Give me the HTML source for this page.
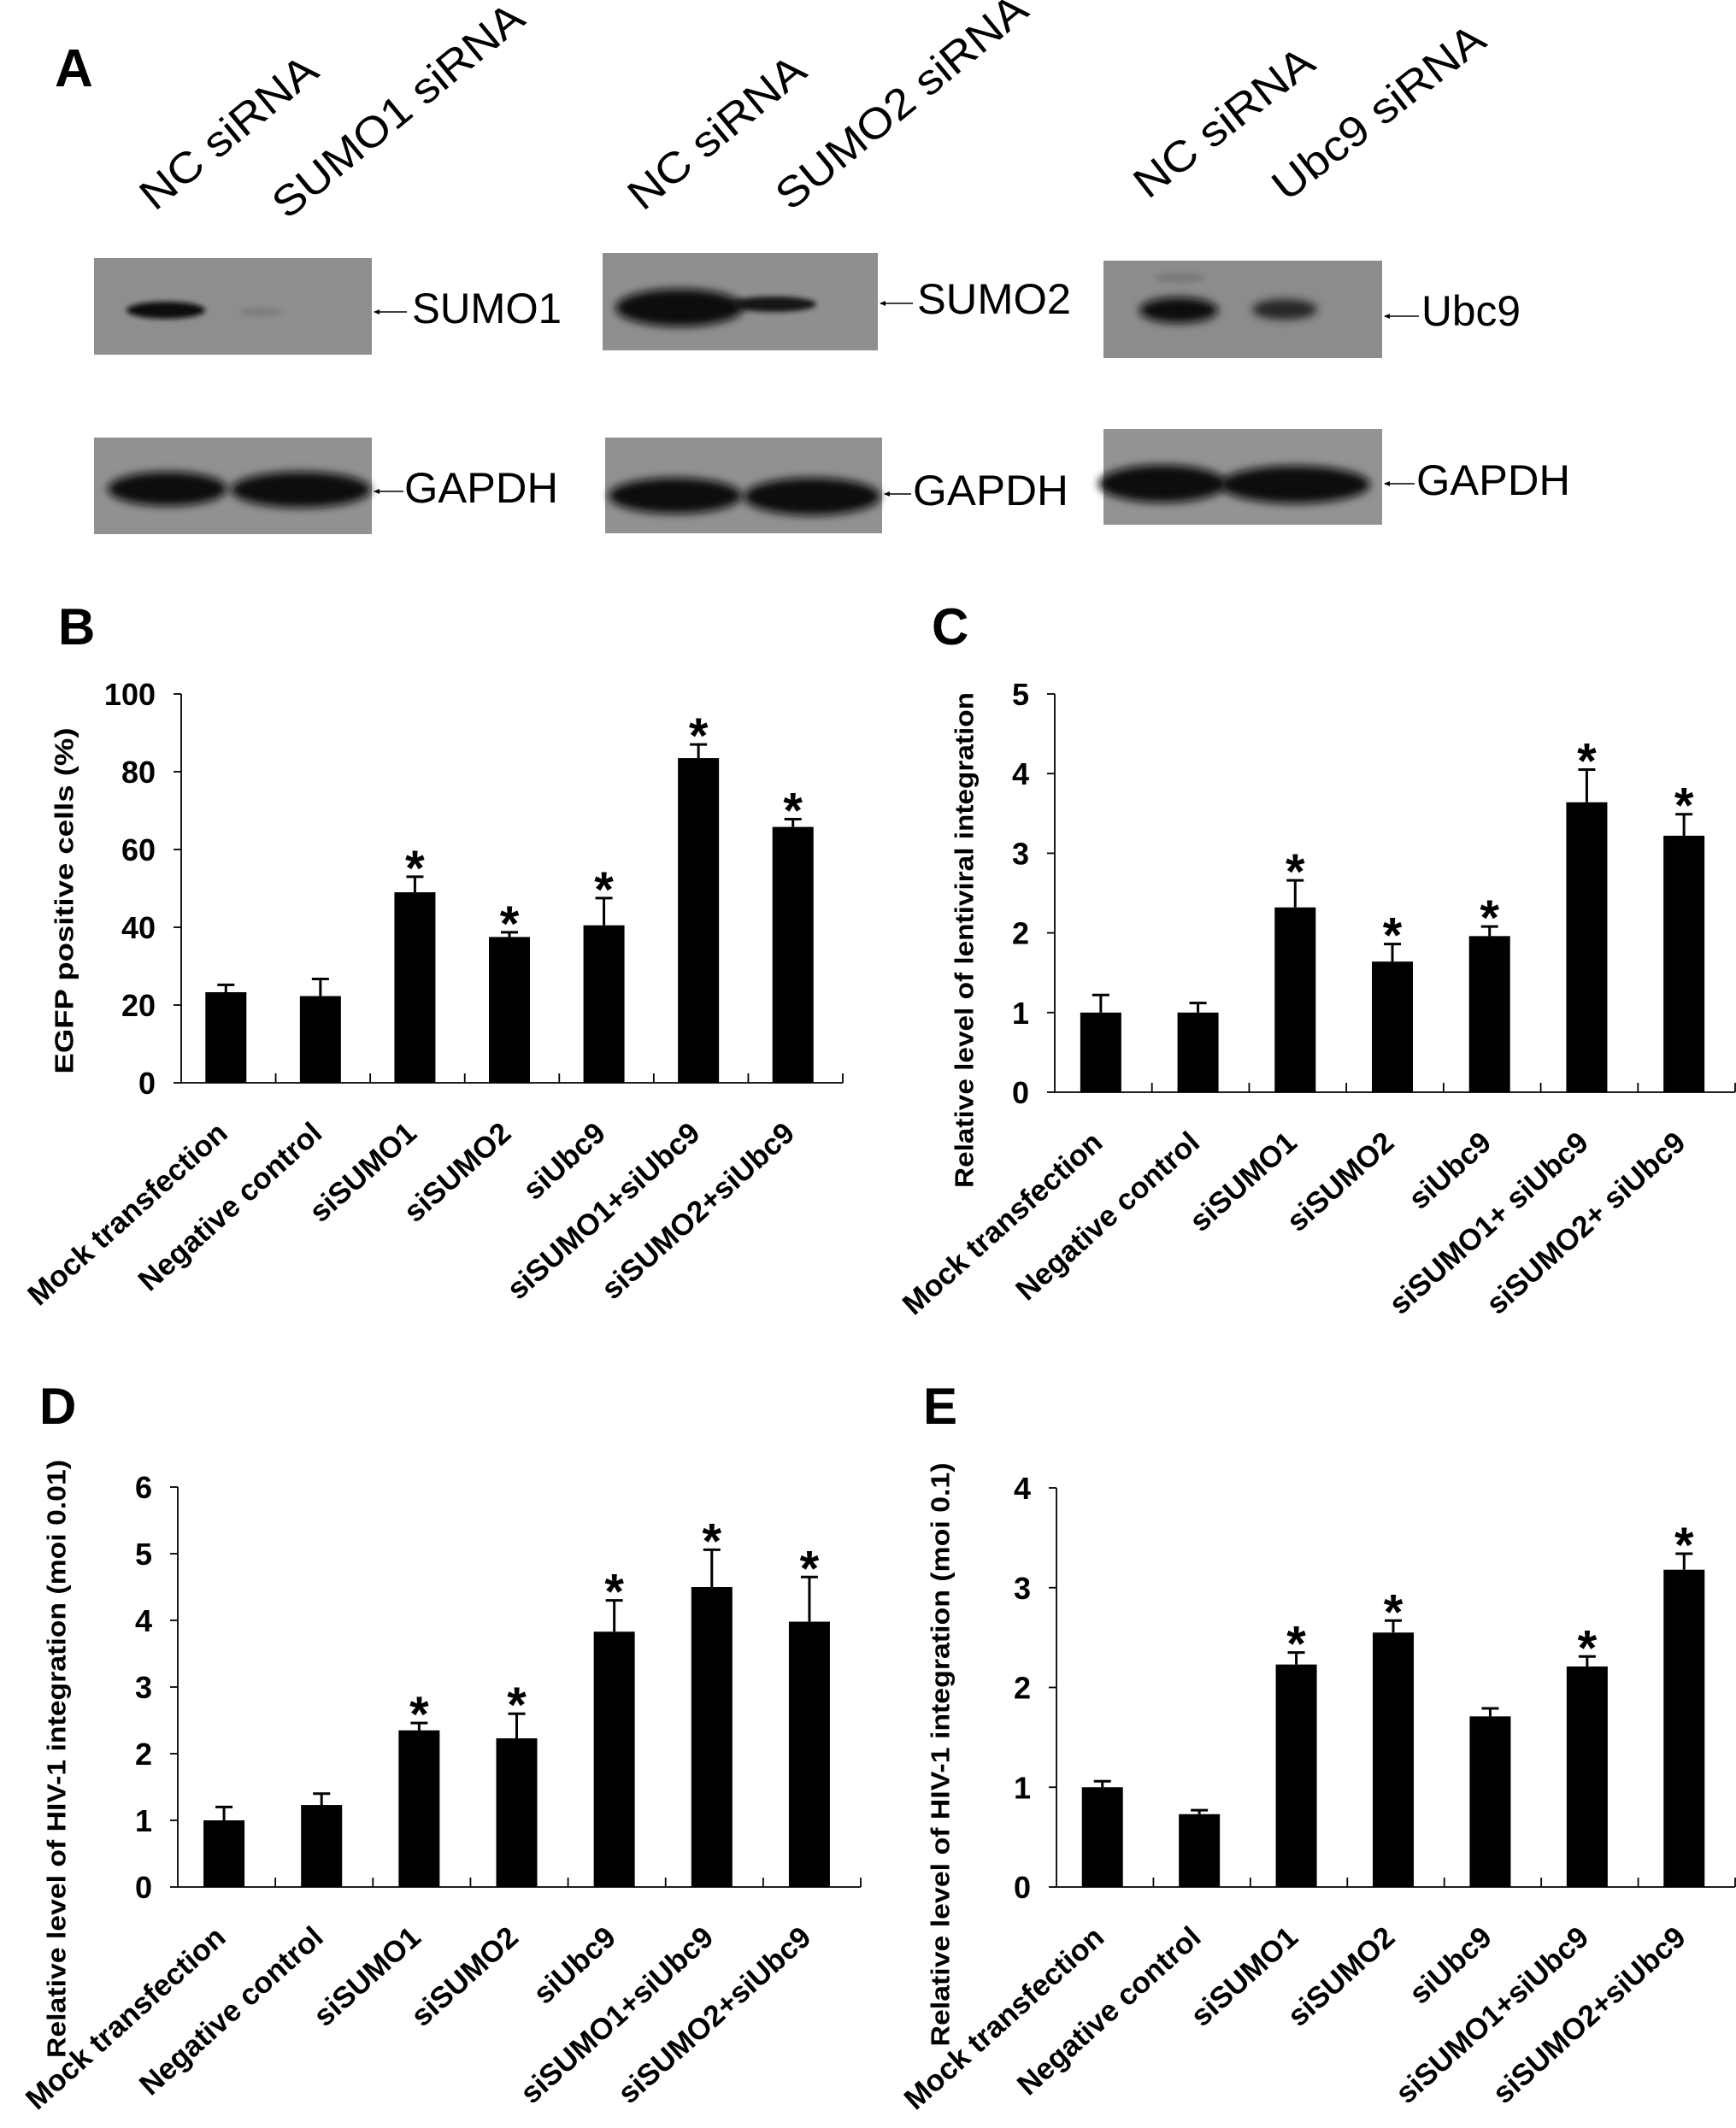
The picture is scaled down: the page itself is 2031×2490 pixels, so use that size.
<!DOCTYPE html>
<html><head><meta charset="utf-8"><title>SUMO knockdown figure</title>
<style>
html,body{margin:0;padding:0;background:#fff;}
svg{display:block;}
text{font-family:"Liberation Sans",Arial,sans-serif;}
</style></head>
<body>
<svg id="fig" xmlns="http://www.w3.org/2000/svg" width="2031" height="2490" viewBox="0 0 2031 2490">
<defs>
<filter id="blur6" x="-30%" y="-60%" width="160%" height="220%"><feGaussianBlur stdDeviation="5"/></filter>
<filter id="blur3" x="-30%" y="-60%" width="160%" height="220%"><feGaussianBlur stdDeviation="3"/></filter>
</defs>
<rect x="0" y="0" width="2031" height="2490" fill="#fff"/>

<g>
<text x="64" y="101" font-size="62" font-weight="bold">A</text>

<text transform="translate(181,248) rotate(-39.5)" font-size="50" textLength="252" lengthAdjust="spacingAndGlyphs">NC siRNA</text>
<text transform="translate(336,258) rotate(-39.5)" font-size="50" textLength="364" lengthAdjust="spacingAndGlyphs">SUMO1 siRNA</text>
<text transform="translate(752,248) rotate(-39.5)" font-size="50" textLength="252" lengthAdjust="spacingAndGlyphs">NC siRNA</text>
<text transform="translate(925,248) rotate(-39.5)" font-size="50" textLength="364" lengthAdjust="spacingAndGlyphs">SUMO2 siRNA</text>
<text transform="translate(1343,234) rotate(-38)" font-size="50" textLength="252" lengthAdjust="spacingAndGlyphs">NC siRNA</text>
<text transform="translate(1505,237) rotate(-38)" font-size="50" textLength="300" lengthAdjust="spacingAndGlyphs">Ubc9 siRNA</text>

<g>
<rect x="110" y="302" width="325" height="113" fill="#8e8e8e"/>
<ellipse cx="194" cy="363" rx="46" ry="10" fill="#111" filter="url(#blur3)"/>
<ellipse cx="305" cy="365" rx="25" ry="5" fill="#7d7d7d" filter="url(#blur3)"/>
</g>
<line x1="438" y1="365" x2="476" y2="365" stroke="#000" stroke-width="1.5"/>
<path d="M437,365 l7,-3 l0,6 z" fill="#000"/>
<text x="482" y="378" font-size="50" textLength="175" lengthAdjust="spacingAndGlyphs">SUMO1</text>

<g>
<rect x="110" y="512" width="325" height="113" fill="#919191"/>
<ellipse cx="196" cy="572" rx="70" ry="20" fill="#0d0d0d" filter="url(#blur6)"/>
<ellipse cx="352" cy="573" rx="82" ry="21" fill="#0d0d0d" filter="url(#blur6)"/>
</g>
<line x1="438" y1="575" x2="472" y2="575" stroke="#000" stroke-width="1.5"/>
<path d="M437,575 l7,-3 l0,6 z" fill="#000"/>
<text x="473" y="588" font-size="50" textLength="180" lengthAdjust="spacingAndGlyphs">GAPDH</text>

<g>
<rect x="705" y="296" width="322" height="114" fill="#8f8f8f"/>
<ellipse cx="795" cy="360" rx="75" ry="22" fill="#0a0a0a" filter="url(#blur6)"/>
<ellipse cx="905" cy="356" rx="50" ry="9" fill="#151515" filter="url(#blur3)"/>
</g>
<line x1="1030" y1="355" x2="1068" y2="355" stroke="#000" stroke-width="1.5"/>
<path d="M1029,355 l7,-3 l0,6 z" fill="#000"/>
<text x="1073" y="367" font-size="50" textLength="180" lengthAdjust="spacingAndGlyphs">SUMO2</text>

<g>
<rect x="708" y="512" width="324" height="112" fill="#919191"/>
<ellipse cx="790" cy="580" rx="78" ry="21" fill="#0d0d0d" filter="url(#blur6)"/>
<ellipse cx="950" cy="581" rx="80" ry="22" fill="#0d0d0d" filter="url(#blur6)"/>
</g>
<line x1="1035" y1="578" x2="1066" y2="578" stroke="#000" stroke-width="1.5"/>
<path d="M1034,578 l7,-3 l0,6 z" fill="#000"/>
<text x="1068" y="591" font-size="50" textLength="182" lengthAdjust="spacingAndGlyphs">GAPDH</text>

<g>
<rect x="1291" y="305" width="326" height="114" fill="#8c8c8c"/>
<ellipse cx="1380" cy="325" rx="30" ry="6" fill="#7a7a7a" filter="url(#blur3)"/>
<ellipse cx="1379" cy="363" rx="46" ry="15" fill="#0c0c0c" filter="url(#blur6)"/>
<ellipse cx="1503" cy="362" rx="38" ry="12" fill="#252525" filter="url(#blur6)"/>
</g>
<line x1="1620" y1="370" x2="1660" y2="370" stroke="#000" stroke-width="1.5"/>
<path d="M1619,370 l7,-3 l0,6 z" fill="#000"/>
<text x="1663" y="381" font-size="50" textLength="116" lengthAdjust="spacingAndGlyphs">Ubc9</text>

<g>
<rect x="1291" y="502" width="326" height="112" fill="#939393"/>
<ellipse cx="1360" cy="566" rx="75" ry="22" fill="#0b0b0b" filter="url(#blur6)"/>
<ellipse cx="1515" cy="567" rx="88" ry="22" fill="#0b0b0b" filter="url(#blur6)"/>
</g>
<line x1="1620" y1="566" x2="1655" y2="566" stroke="#000" stroke-width="1.5"/>
<path d="M1619,566 l7,-3 l0,6 z" fill="#000"/>
<text x="1657" y="579" font-size="50" textLength="180" lengthAdjust="spacingAndGlyphs">GAPDH</text>
</g>

<g id="charts"></g>
</svg>

<script>
const categoriesStd = ["Mock transfection","Negative control","siSUMO1","siSUMO2","siUbc9","siSUMO1+siUbc9","siSUMO2+siUbc9"];
const categoriesC = ["Mock transfection","Negative control","siSUMO1","siSUMO2","siUbc9","siSUMO1+ siUbc9","siSUMO2+ siUbc9"];

const valuesB = [23.3, 22.3, 49.0, 37.5, 40.5, 83.5, 65.8];
const errorsB = [1.9, 4.4, 4.0, 1.2, 7.0, 3.5, 2.0];
const starsB  = [0, 0, 1, 1, 1, 1, 1];
const ticksB  = [0, 20, 40, 60, 80, 100];

const valuesC = [1.0, 1.0, 2.32, 1.64, 1.96, 3.64, 3.22];
const errorsC = [0.22, 0.12, 0.34, 0.22, 0.12, 0.41, 0.27];
const starsC  = [0, 0, 1, 1, 1, 1, 1];
const ticksC  = [0, 1, 2, 3, 4, 5];

const valuesD = [1.0, 1.23, 2.35, 2.23, 3.83, 4.5, 3.98];
const errorsD = [0.2, 0.17, 0.11, 0.37, 0.47, 0.56, 0.67];
const starsD  = [0, 0, 1, 1, 1, 1, 1];
const ticksD  = [0, 1, 2, 3, 4, 5, 6];

const valuesE = [1.0, 0.73, 2.23, 2.55, 1.71, 2.21, 3.18];
const errorsE = [0.06, 0.04, 0.12, 0.12, 0.08, 0.10, 0.16];
const starsE  = [0, 0, 1, 1, 0, 1, 1];
const ticksE  = [0, 1, 2, 3, 4];

const panels = [
  {id:"b", letter:"B", lx:68, ly:754, x0:212, x1:986, yTop:812, y0:1267, max:100,
   cats:categoriesStd, vals:valuesB, errs:errorsB, stars:starsB, ticks:ticksB,
   title:"EGFP positive cells (%)", tx:75, ty:1054, tlen:405},
  {id:"c", letter:"C", lx:1090, ly:754, x0:1234, x1:2030, yTop:812, y0:1278, max:5,
   cats:categoriesC, vals:valuesC, errs:errorsC, stars:starsC, ticks:ticksC,
   title:"Relative level of lentiviral integration", tx:1128, ty:1100, tlen:580},
  {id:"d", letter:"D", lx:46, ly:1666, x0:208, x1:1007, yTop:1740, y0:2208, max:6,
   cats:categoriesStd, vals:valuesD, errs:errorsD, stars:starsD, ticks:ticksD,
   title:"Relative level of HIV-1 integration (moi 0.01)", tx:66, ty:2058, tlen:700},
  {id:"e", letter:"E", lx:1080, ly:1666, x0:1236, x1:2030, yTop:1741, y0:2208, max:4,
   cats:categoriesStd, vals:valuesE, errs:errorsE, stars:starsE, ticks:ticksE,
   title:"Relative level of HIV-1 integration (moi 0.1)", tx:1100, ty:2053, tlen:683}
];

const NS = "http://www.w3.org/2000/svg";
const root = document.getElementById("charts");
function mk(tag, attrs, parent) {
  const el = document.createElementNS(NS, tag);
  for (const k in attrs) el.setAttribute(k, attrs[k]);
  parent.appendChild(el);
  return el;
}

panels.forEach(p => {
  const g = mk("g", {}, root);
  
  

  const n = p.cats.length;
  const band = (p.x1 - p.x0) / n;
  const xC = i => p.x0 + band * (i + 0.5) - 3;
  const yS = v => p.y0 - (v / p.max) * (p.y0 - p.yTop);

  const letter = mk("text", {x:p.lx, y:p.ly, "font-size":60, "font-weight":"bold"}, g);
  letter.textContent = p.letter;
  
  

  const yAxis = mk("line", {x1:p.x0, y1:p.yTop, x2:p.x0, y2:p.y0, stroke:"#000", "stroke-width":1.8}, g);
  
  
  const xAxis = mk("line", {x1:p.x0, y1:p.y0, x2:p.x1, y2:p.y0, stroke:"#000", "stroke-width":1.8}, g);
  
  

  p.ticks.forEach(t => {
    const y = yS(t);
    mk("line", {x1:p.x0 - 9, y1:y, x2:p.x0, y2:y, stroke:"#000", "stroke-width":1.8}, g);
    const lab = mk("text", {x:p.x0 - 30, y:y + 13, "font-size":36, "font-weight":"bold", "text-anchor":"end"}, g);
    lab.textContent = String(t);
    
    
  });
  for (let i = 1; i <= n; i++) {
    const x = p.x0 + band * i;
    mk("line", {x1:x, y1:p.y0, x2:x, y2:p.y0 - 11, stroke:"#000", "stroke-width":1.8}, g);
  }

  const title = mk("text", {transform:"translate(" + p.tx + "," + p.ty + ") rotate(-90)",
    "font-size":31, "font-weight":"bold", "text-anchor":"middle", "dominant-baseline":"central",
    textLength:p.tlen, lengthAdjust:"spacingAndGlyphs"}, g);
  title.textContent = p.title;
  
  

  p.vals.forEach((v, i) => {
    const cx = xC(i);
    const top = yS(v);
    const bar = mk("rect", {x:cx - 24, y:top, width:48, height:p.y0 - top, fill:"#000"}, g);
    
    

    const capY = yS(v + p.errs[i]);
    const eb = mk("path", {d:"M" + cx + "," + top + " V" + capY + " M" + (cx - 10) + "," + capY + " H" + (cx + 10),
      stroke:"#000", "stroke-width":3, fill:"none"}, g);
    
    

    if (p.stars[i]) {
      const st = mk("text", {x:cx, y:capY + 10, "font-size":58, "font-weight":"bold", "text-anchor":"middle"}, g);
      st.textContent = "*";
      
      
    }

    const xl = mk("text", {transform:"translate(" + (cx + 4) + "," + (p.y0 + 62) + ") rotate(-42)",
      "font-size":35, "font-weight":"bold", "text-anchor":"end"}, g);
    xl.textContent = p.cats[i];
    
    
  });
});
</script>
</body></html>
